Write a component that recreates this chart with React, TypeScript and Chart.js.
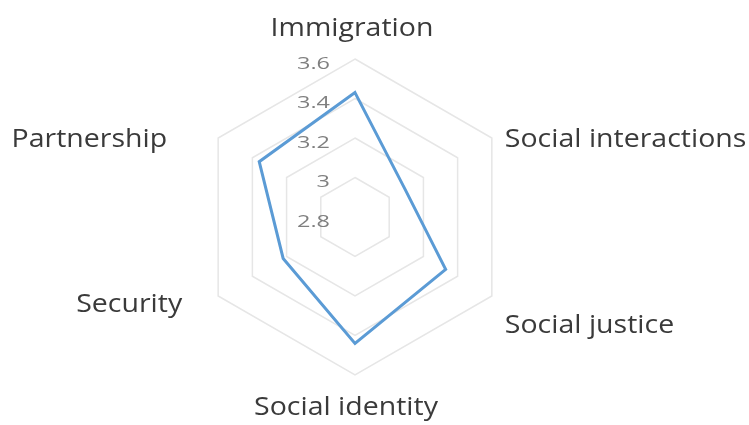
import React, { useEffect, useRef } from "react";
import { Chart, registerables } from "chart.js";

Chart.register(...registerables);

const categories = [
  "Immigration",
  "Social interactions",
  "Social justice",
  "Social identity",
  "Security",
  "Partnership",
];
const seriesValues = [3.43, 3.09, 3.33, 3.44, 3.22, 3.36];
const tickMin = 2.8;
const tickMax = 3.6;
const tickStep = 0.2;

// label placement relative to each outer vertex: [dx, dy, align]
const labelOffsets: [number, number, CanvasTextAlign][] = [
  [-3, -30, "center"],
  [13, 2, "left"],
  [13, 30, "left"],
  [-9, 33, "center"],
  [-36, 9, "right"],
  [-51, 2, "right"],
];

function stretchText(ctx: CanvasRenderingContext2D, text: string, x: number, y: number, sx: number) {
  ctx.save();
  ctx.translate(x, y);
  ctx.scale(sx, 1);
  ctx.fillText(text, 0, 0);
  ctx.restore();
}

const labelPlugin = {
  id: "customLabels",
  afterDraw(chart: any) {
    const scale = chart.scales.r;
    const ctx = chart.ctx;
    ctx.save();
    // tick labels
    ctx.font = "17px 'Open Sans', sans-serif";
    ctx.fillStyle = "#7f7f7f";
    ctx.textAlign = "right";
    ctx.textBaseline = "middle";
    scale.ticks.forEach((t: any) => {
      const d = scale.getDistanceFromCenterForValue(t.value);
      const label = String(Number(t.value.toFixed(1)));
      stretchText(ctx, label, scale.xCenter - 25, scale.yCenter - d + 5, 1.38);
    });
    // point labels
    ctx.font = "25px 'Open Sans', sans-serif";
    ctx.fillStyle = "#3a3a3a";
    categories.forEach((c, i) => {
      const p = scale.getPointPositionForValue(i, scale.max);
      const [dx, dy, align] = labelOffsets[i];
      ctx.textAlign = align;
      stretchText(ctx, c, p.x + dx, p.y + dy, 1.14);
    });
    ctx.restore();
  },
};

export default function App() {
  const ref = useRef<HTMLCanvasElement>(null);
  useEffect(() => {
    if (!ref.current) return;
    const chart = new Chart(ref.current, {
      type: "radar",
      data: {
        labels: categories,
        datasets: [
          {
            data: seriesValues,
            borderColor: "#5b9bd5",
            borderWidth: 3,
            backgroundColor: "rgba(0,0,0,0)",
            fill: false,
            pointRadius: 0,
            tension: 0,
          },
        ],
      },
      options: {
        responsive: false,
        animation: false,
        layout: { padding: { top: 59, bottom: 50, left: 150, right: 189 } },
        plugins: { legend: { display: false }, tooltip: { enabled: false } },
        scales: {
          r: {
            min: tickMin,
            max: tickMax,
            ticks: { stepSize: tickStep, display: false },
            grid: { color: "#e6e6e6", lineWidth: 1.5 },
            angleLines: { display: false },
            pointLabels: { display: false },
          },
        },
      },
      plugins: [labelPlugin],
    });
    return () => chart.destroy();
  }, []);
  return (
    <div style={{ position: "absolute", left: 0, top: 0, width: 749, height: 425, background: "#fff" }}>
      <canvas ref={ref} width={749} height={425} style={{ display: "block" }} />
    </div>
  );
}
